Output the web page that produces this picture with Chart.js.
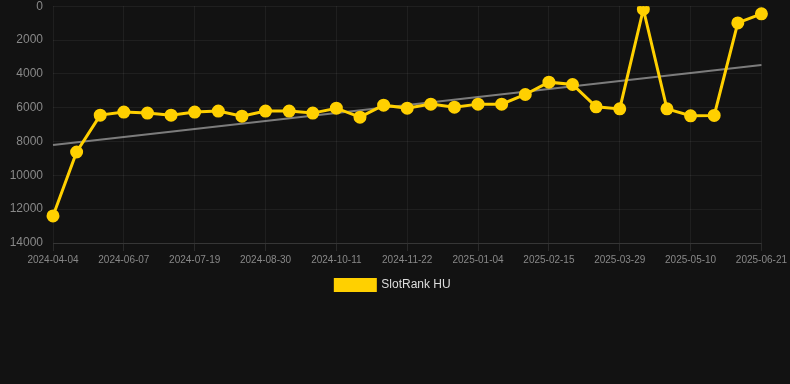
<!DOCTYPE html>
<html>
<head>
<meta charset="utf-8">
<script src="https://cdn.jsdelivr.net/npm/chart.js@4/dist/chart.umd.min.js"></script>
<style>
  html, body { margin: 0; padding: 0; background: #121212; overflow: hidden; }
  #wrap { width: 790px; height: 302px; position: relative; margin-top: -1px; }
</style>
</head>
<body>
<div id="wrap"><canvas id="c"></canvas></div>
<script>
const dates = [
  "2024-04-04","2024-05-10","2024-05-24","2024-06-07","2024-06-21","2024-07-05",
  "2024-07-19","2024-08-02","2024-08-16","2024-08-30","2024-09-13","2024-09-27",
  "2024-10-11","2024-10-25","2024-11-08","2024-11-22","2024-12-07","2024-12-21",
  "2025-01-04","2025-01-18","2025-02-01","2025-02-15","2025-03-01","2025-03-15",
  "2025-03-29","2025-04-12","2025-04-26","2025-05-10","2025-05-24","2025-06-07",
  "2025-06-21"
];
const rankValues = [
  12400, 8620, 6440, 6260, 6320, 6440, 6260, 6200, 6500, 6200, 6200, 6320,
  6030, 6560, 5850, 6030, 5790, 5970, 5790, 5790, 5220, 4490, 4630, 5950,
  6070, 180, 6070, 6480, 6460, 990, 450
];
const trendStart = 8200;
const trendEnd = 3480;
const yTicks = [0, 2000, 4000, 6000, 8000, 10000, 12000, 14000];
const seriesName = "SlotRank HU";

const trendData = dates.map((d, i) => i === 0 ? trendStart : (i === dates.length - 1 ? trendEnd : null));

new Chart(document.getElementById('c'), {
  type: 'line',
  data: {
    labels: dates,
    datasets: [
      {
        label: seriesName,
        data: rankValues,
        borderColor: '#ffd000',
        backgroundColor: '#ffd000',
        borderWidth: 3,
        pointRadius: 5,
        pointHoverRadius: 5,
        pointBackgroundColor: '#ffd000',
        pointBorderColor: '#ffd000',
        tension: 0
      },
      {
        label: 'trend',
        data: trendData,
        borderColor: 'rgba(160,160,160,0.75)',
        borderWidth: 2,
        pointRadius: 0,
        spanGaps: true,
        fill: false
      }
    ]
  },
  options: {
    responsive: true,
    maintainAspectRatio: false,
    animation: false,
    layout: { autoPadding: false, padding: { top: 0, left: 0, right: 4, bottom: 0 } },
    plugins: {
      legend: {
        position: 'bottom',
        labels: {
          color: '#dddddd',
          font: { family: 'Liberation Sans, Arial, sans-serif', size: 12 },
          boxWidth: 40,
          boxHeight: 11,
          filter: (item) => item.datasetIndex === 0
        }
      },
      tooltip: { enabled: false }
    },
    scales: {
      x: {
        offset: false,
        grid: { color: 'rgba(255,255,255,0.06)', tickColor: 'rgba(255,255,255,0.1)' },
        border: { color: 'rgba(255,255,255,0.1)' },
        ticks: {
          color: '#888888',
          font: { family: 'Liberation Sans, Arial, sans-serif', size: 10 },
          maxRotation: 0,
          autoSkip: true,
          maxTicksLimit: 11
        }
      },
      y: {
        reverse: true,
        min: 0,
        max: 14000,
        afterBuildTicks: (axis) => { axis.ticks = yTicks.map(v => ({ value: v })); },
        afterFit: (axis) => { axis.width = 53; },
        grid: { color: 'rgba(255,255,255,0.06)', drawTicks: true, tickLength: 10, tickColor: 'transparent' },
        border: { display: false },
        ticks: {
          color: '#888888',
          padding: 0,
          font: { family: 'Liberation Sans, Arial, sans-serif', size: 12 },
          callback: (v) => String(v)
        }
      }
    }
  }
});
</script>
</body>
</html>
